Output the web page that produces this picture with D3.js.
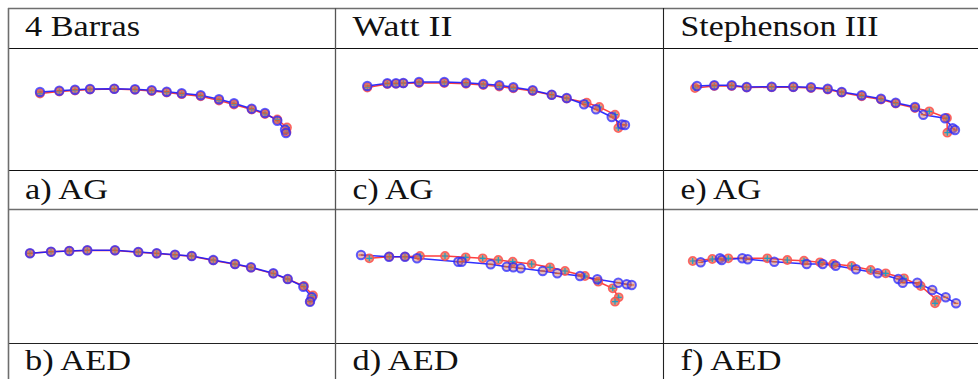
<!DOCTYPE html>
<html><head><meta charset="utf-8">
<script src="https://cdn.jsdelivr.net/npm/d3@7"></script>
<style>html,body{margin:0;padding:0;background:#fff;}svg{display:block;}</style>
</head><body>
<svg id="chart" width="978" height="379"></svg>
<script>
// ---- table text ----
const headers = ["4 Barras", "Watt II", "Stephenson III"];
const captionsTop = ["a) AG", "c) AG", "e) AG"];
const captionsBottom = ["b) AED", "d) AED", "f) AED"];

// ---- curve data (panel-local units, x to the right, y downward) ----
// a) 4 Barras, AG
const aRedX  = [32,51.3,67,82,106.3,127,143.7,158.7,173.7,192.7,211,226,243.7,257,269.3,279,278.5];
const aRedY  = [45.5,43.5,42.5,41.5,41,41.8,43,44.5,46.2,48.3,52.5,56.5,61.5,66,71.5,79.5,84];
const aBlueX = [32,51.3,67,82,106.3,127,143.7,158.7,173.7,192.7,211,226,243.7,257,269.3,277,278];
const aBlueY = [44,42.7,41.7,41,40.7,41.3,42.3,43.7,45.3,47.3,51.3,55.3,60.7,65,72.7,81.7,85];
// b) 4 Barras, AED
const bRedX  = [22,43,61.3,79.3,107,130.3,148.7,167,183.7,205.3,227,243,265.3,279.7,296,305,302];
const bRedY  = [44.3,42.8,42,41.4,41.5,43.2,44.5,45.9,47.2,51.4,55.3,58.7,64.6,70.2,77,86.5,92.5];
const bBlueX = [22,43,61.3,79.3,107,130.3,148.7,167,183.7,205.3,227,243,265.3,279.7,295.3,303.7,302];
const bBlueY = [44.3,42.7,42,41.3,41.3,43,44.3,45.7,47,51,55,58.3,64.3,70,77.7,88.3,92.7];
// c) Watt II, AG
const cRedX  = [32.3,52.3,61,68.3,84,109.3,131,148.3,164.3,178.3,197.7,216.7,231.7,251.7,264.3,280,283.3];
const cRedY  = [39.5,36,35.8,35.3,35,35,35.8,37,38.5,40.3,43,47,50.5,54.7,59,66.7,80];
const cBlueX = [32.3,52.3,61,68.3,84,109.3,131,148.3,164.3,178.3,197.7,216.7,231.7,249,261,276.7,287,290];
const cBlueY = [38,35.3,35.3,35,34,34,34.7,36,37.3,39.3,42.3,46.7,50,56.3,61.3,69,76.5,77];
// d) Watt II, AED
const dRedX  = [34.3,54.3,70,85,110,130.7,147.7,163.3,177.7,196.7,215,230,250,263.3,277.7,283.7,280];
const dRedY  = [49.3,47.7,47.7,47,47,48.3,49.3,51,52.7,55,58.3,62,67,72.7,79.3,88.3,92.7];
const dBlueX = [26,54,70,82,123.3,126.7,155.7,171.7,178.3,185.7,207.7,222.3,245,262.3,283.3,291.7,296.7];
const dBlueY = [46,47.7,47.7,49.3,52.7,52.7,55.3,57.7,58.3,59.3,62,64.3,67,70.3,73.7,75.3,76];
// e) Stephenson III, AG
const eRedX  = [32,51.3,68.7,83.7,108.7,130.3,148,164.7,178.7,198.7,218,232.7,252,266.3,284,284.3];
const eRedY  = [40,38,38,39.5,39.3,39.3,40,41.5,44.5,48.3,51.5,55.5,60,63.3,70,84.7];
const eBlueX = [34,51.3,68.7,83.7,108.7,130.3,148,164.7,178.7,198.7,218,232.7,252,260.3,282,289.7,292];
const eBlueY = [38,37.3,37.3,39,38.7,38.7,39.3,40.7,44,47.3,50.7,54.7,59,66.7,70.3,80.3,82];
// f) Stephenson III, AED
const fRedX  = [29.7,49.3,65.3,104.3,124.3,141,157,170.3,188.7,207.7,222.7,241,257.7,273.7,272];
const fRedY  = [52,50,49.3,49.3,51,51.7,53.3,55,57,61,64.3,69.3,77,91,94.3];
const fBlueX = [37.7,57,58.7,79.3,84.7,111.3,143.7,159.7,172.7,193,214.7,235.3,239.7,254.3,269.3,282.7,293];
const fBlueY = [53.3,49.3,51,49.3,50.3,52.7,55,55,56.7,60.3,64.3,70,73.7,73.7,81,88.3,94.3];

const panels = [
  {col:0,row:0,rx:aRedX,ry:aRedY,bx:aBlueX,by:aBlueY},
  {col:0,row:1,rx:bRedX,ry:bRedY,bx:bBlueX,by:bBlueY},
  {col:1,row:0,rx:cRedX,ry:cRedY,bx:cBlueX,by:cBlueY},
  {col:1,row:1,rx:dRedX,ry:dRedY,bx:dBlueX,by:dBlueY},
  {col:2,row:0,rx:eRedX,ry:eRedY,bx:eBlueX,by:eBlueY},
  {col:2,row:1,rx:fRedX,ry:fRedY,bx:fBlueX,by:fBlueY}
];

// ---- layout ----
const svg = d3.select("#chart");
const W = 978;
const colX = [8, 335, 663];
const colW = [327, 328, 315];
const plotTop = [48, 209];
const plotH = 122;
const lineY = {top:8, head:48, capA:170, rowB:209, capB:343};

// table lines
const g = svg.append("g");
const hline = (y, c, w) => g.append("line").attr("x1", 8).attr("x2", W).attr("y1", y).attr("y2", y)
  .attr("stroke", c).attr("stroke-width", w);
hline(lineY.top + 0.5, "#6e6e6e", 1.6);
hline(lineY.head + 0.5, "#111", 1.1);
hline(lineY.capA + 0.5, "#111", 1.1);
hline(lineY.rowB + 0.5, "#6e6e6e", 1.6);
hline(lineY.capB + 0.5, "#222", 1.1);
[[8.5,"#6e6e6e",1.6],[335.5,"#555",1.3],[663.5,"#222",1.1]].forEach(([x,c,w]) =>
  g.append("line").attr("x1", x).attr("x2", x).attr("y1", 8).attr("y2", 379).attr("stroke", c).attr("stroke-width", w));

// text
const textX = [25, 352.5, 680.5];
const headW = [115, 100, 198];
const capTopW = [83, 81, 81];
const capBotW = [106, 106, 101];
function label(txt, x, y, w) {
  svg.append("text").attr("x", x).attr("y", y).text(txt)
    .attr("font-family", "'Liberation Serif', 'DejaVu Serif', serif")
    .attr("font-size", 29).attr("fill", "#111")
    .attr("textLength", w).attr("lengthAdjust", "spacingAndGlyphs");
}
headers.forEach((t,i) => label(t, textX[i], 35.5, headW[i]));
captionsTop.forEach((t,i) => label(t, textX[i], 198.5, capTopW[i]));
captionsBottom.forEach((t,i) => label(t, textX[i], 369.5, capBotW[i]));

// plots
panels.forEach(p => {
  const x = d3.scaleLinear().domain([0, colW[p.col]]).range([colX[p.col], colX[p.col] + colW[p.col]]);
  const y = d3.scaleLinear().domain([0, plotH]).range([plotTop[p.row], plotTop[p.row] + plotH]);
  const red = p.rx.map((v,i) => [v, p.ry[i]]);
  const blue = p.bx.map((v,i) => [v, p.by[i]]);
  const line = d3.line().x(d => x(d[0])).y(d => y(d[1]));
  const pg = svg.append("g");
  pg.append("path").attr("d", line(red)).attr("fill", "none").attr("stroke", "#ff2a2a").attr("stroke-width", 1.5).attr("opacity", 0.9);
  pg.append("path").attr("d", line(blue)).attr("fill", "none").attr("stroke", "#1a1aff").attr("stroke-width", 1.5).attr("opacity", 0.9);
  // red markers
  const rm = pg.selectAll(".rm").data(red).join("g").attr("transform", d => `translate(${x(d[0])},${y(d[1])})`);
  rm.append("circle").attr("r", 4.2).attr("fill", "#e0785a").attr("fill-opacity", 0.8).attr("stroke", "#ff4a4a").attr("stroke-width", 1.4).attr("stroke-opacity", 0.8);
  rm.append("path").attr("d", "M-3,0H3M0,-3V3").attr("stroke", "#1f9fc4").attr("stroke-width", 1.2);
  // blue markers
  const bm = pg.selectAll(".bm").data(blue).join("g").attr("transform", d => `translate(${x(d[0])},${y(d[1])})`);
  bm.append("circle").attr("r", 4.2).attr("fill", "#c86a6a").attr("fill-opacity", 0.45).attr("stroke", "#2a2aff").attr("stroke-width", 2).attr("stroke-opacity", 0.75);
  bm.append("path").attr("d", "M-2.5,0H2.5").attr("stroke", "#d8602a").attr("stroke-width", 1.1);
});
</script>
</body></html>
